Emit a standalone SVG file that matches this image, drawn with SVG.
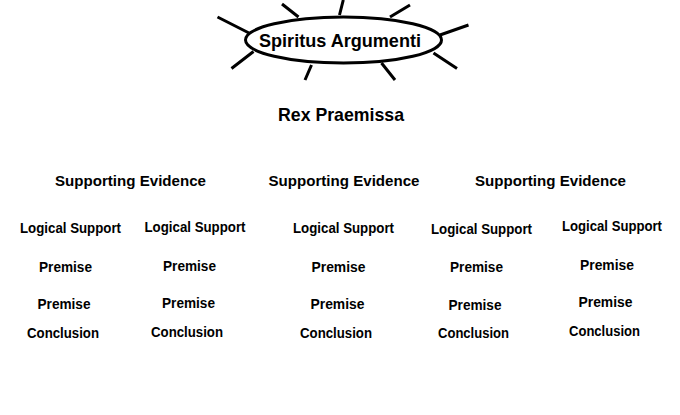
<svg xmlns="http://www.w3.org/2000/svg" width="680" height="415" viewBox="0 0 680 415">
<style>
text{font-family:"Liberation Sans",Arial,sans-serif;font-weight:bold;fill:#000;text-anchor:middle}
.t1{font-size:18.5px}
.t2{font-size:15.5px}
.t3{font-size:15px}
.ray{stroke:#000;stroke-width:3;stroke-linecap:butt;fill:none}
</style>
<rect width="680" height="415" fill="#fff"/>
<g id="connectors"/>
<g id="spiritus">
<path class="ray" d="M339.5 15 L343.3 0 M282 4 L298.5 17 M217.5 17 L250 33.5 M253.5 51.5 L231.5 68.5 M311.5 65 L305 80 M381.5 63 L395 80 M433.5 53 L457 68.5 M440 35 L468.5 25 M390 17 L410 5"/>
<ellipse cx="343.5" cy="40" rx="98" ry="23" fill="#fff" stroke="#000" stroke-width="3"/>
<text class="t1" x="340" y="47" textLength="162" lengthAdjust="spacingAndGlyphs">Spiritus Argumenti</text>
</g>
<g id="rex"><text class="t1" x="341" y="121" textLength="126" lengthAdjust="spacingAndGlyphs">Rex Praemissa</text></g>
<g id="ev1"><text class="t2" x="130.5" y="186" textLength="151" lengthAdjust="spacingAndGlyphs">Supporting Evidence</text></g>
<g id="ev2"><text class="t2" x="344" y="186" textLength="151" lengthAdjust="spacingAndGlyphs">Supporting Evidence</text></g>
<g id="ev3"><text class="t2" x="550.5" y="186" textLength="151" lengthAdjust="spacingAndGlyphs">Supporting Evidence</text></g>
<g id="col1">
<text class="t3" x="70.5" y="233.3" textLength="101" lengthAdjust="spacingAndGlyphs">Logical Support</text>
<text class="t3" x="65.5" y="271.7" textLength="53" lengthAdjust="spacingAndGlyphs">Premise</text>
<text class="t3" x="64" y="309.3" textLength="53" lengthAdjust="spacingAndGlyphs">Premise</text>
<text class="t3" x="63" y="337.7" textLength="72" lengthAdjust="spacingAndGlyphs">Conclusion</text>
</g>
<g id="col2">
<text class="t3" x="195" y="232.3" textLength="101" lengthAdjust="spacingAndGlyphs">Logical Support</text>
<text class="t3" x="189.5" y="271" textLength="53" lengthAdjust="spacingAndGlyphs">Premise</text>
<text class="t3" x="188.5" y="308.3" textLength="53" lengthAdjust="spacingAndGlyphs">Premise</text>
<text class="t3" x="187" y="336.7" textLength="72" lengthAdjust="spacingAndGlyphs">Conclusion</text>
</g>
<g id="col3">
<text class="t3" x="343.5" y="233.3" textLength="101" lengthAdjust="spacingAndGlyphs">Logical Support</text>
<text class="t3" x="338.5" y="271.7" textLength="54" lengthAdjust="spacingAndGlyphs">Premise</text>
<text class="t3" x="337.5" y="309" textLength="54" lengthAdjust="spacingAndGlyphs">Premise</text>
<text class="t3" x="336" y="337.7" textLength="72" lengthAdjust="spacingAndGlyphs">Conclusion</text>
</g>
<g id="col4">
<text class="t3" x="481.5" y="234" textLength="101" lengthAdjust="spacingAndGlyphs">Logical Support</text>
<text class="t3" x="476.5" y="272.3" textLength="53" lengthAdjust="spacingAndGlyphs">Premise</text>
<text class="t3" x="475" y="310" textLength="53" lengthAdjust="spacingAndGlyphs">Premise</text>
<text class="t3" x="473.5" y="338.3" textLength="71" lengthAdjust="spacingAndGlyphs">Conclusion</text>
</g>
<g id="col5">
<text class="t3" x="612" y="231" textLength="100" lengthAdjust="spacingAndGlyphs">Logical Support</text>
<text class="t3" x="607" y="270" textLength="54" lengthAdjust="spacingAndGlyphs">Premise</text>
<text class="t3" x="605.5" y="307.3" textLength="54" lengthAdjust="spacingAndGlyphs">Premise</text>
<text class="t3" x="604.5" y="336" textLength="71" lengthAdjust="spacingAndGlyphs">Conclusion</text>
</g>
</svg>
